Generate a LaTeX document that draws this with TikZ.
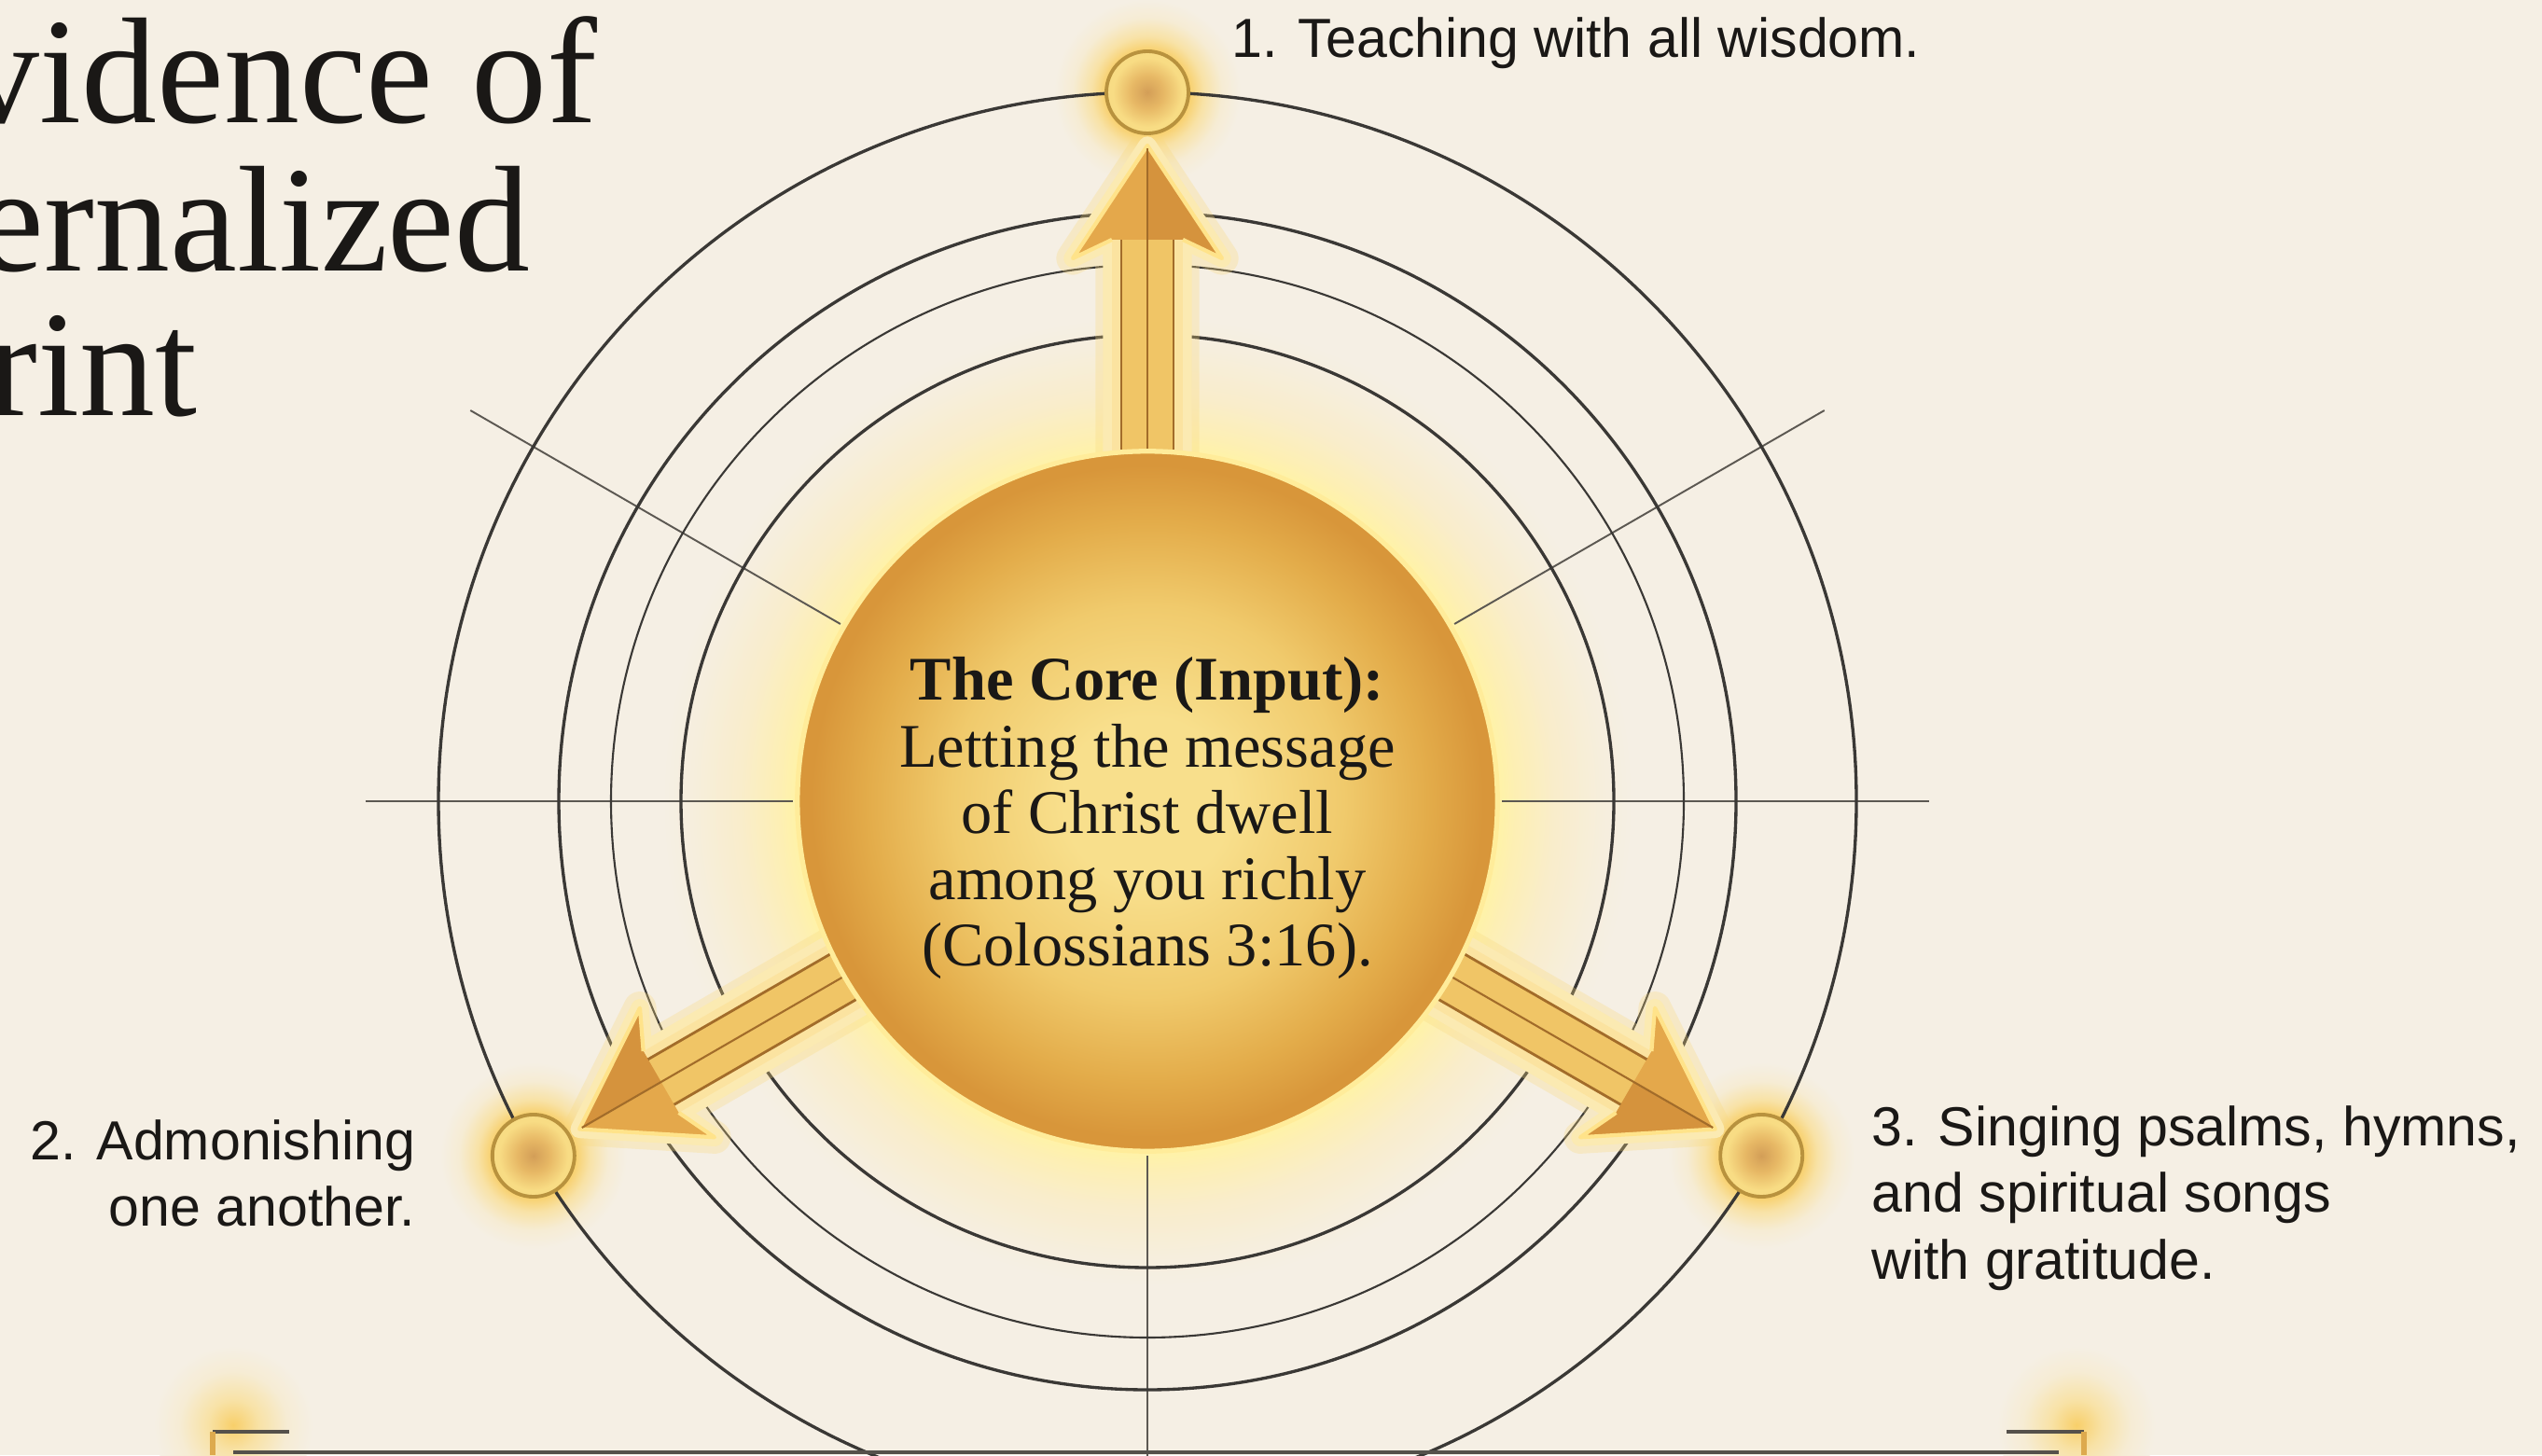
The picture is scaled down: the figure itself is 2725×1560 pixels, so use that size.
\documentclass[tikz,border=0pt]{standalone}
\usepackage{fontspec}
\setmainfont{Liberation Serif}
\newfontfamily\labfont{Liberation Sans}
\usetikzlibrary{calc}
\definecolor{bg}{HTML}{F5EFE4}
\definecolor{ink}{HTML}{1A1816}
\definecolor{ringc}{HTML}{3A3835}
\definecolor{spokec}{HTML}{5C5852}
\definecolor{coreA}{HTML}{F8DF8C}
\definecolor{coreB}{HTML}{F0CA6C}
\definecolor{coreC}{HTML}{E3AC4A}
\definecolor{coreD}{HTML}{D8963A}
\definecolor{coreRim}{HTML}{FFEC9A}
\definecolor{glowA}{HTML}{FFF3A6}
\definecolor{glowB}{HTML}{FDEFB4}
\definecolor{glowC}{HTML}{F9EDCB}
\definecolor{glowD}{HTML}{F6EEDD}
\definecolor{dotA}{HTML}{D39E57}
\definecolor{dotB}{HTML}{E7B865}
\definecolor{dotC}{HTML}{F8DC84}
\definecolor{dotline}{HTML}{B8923E}
\definecolor{dglowA}{HTML}{F8CF6A}
\definecolor{dglowB}{HTML}{F8E2A6}
\definecolor{dglowC}{HTML}{F6ECD4}
\definecolor{halo}{HTML}{FBEAB2}
\definecolor{haloS}{HTML}{F9DA80}
\definecolor{shaftP}{HTML}{FBE3A0}
\definecolor{shaftM}{HTML}{F0C566}
\definecolor{headL}{HTML}{E4A84B}
\definecolor{headD}{HTML}{D5933D}
\definecolor{headE}{HTML}{FFE38A}
\definecolor{grooveC}{HTML}{A26C2A}
\definecolor{brkGold}{HTML}{DDAA4E}
\definecolor{brkLine}{HTML}{55514B}

\pgfdeclareradialshading{coreshade}{\pgfpoint{0bp}{0bp}}{color(0bp)=(coreA); color(6bp)=(coreA); color(14bp)=(coreB); color(20bp)=(coreC); color(24bp)=(coreD); color(25bp)=(coreD); color(50bp)=(coreD)}
\pgfdeclareradialshading{coreglow}{\pgfpoint{0bp}{0bp}}{color(0bp)=(glowA); color(18bp)=(glowA); color(19bp)=(glowB); color(21bp)=(glowC); color(23.5bp)=(glowD); color(25bp)=(bg); color(50bp)=(bg)}
\pgfdeclareradialshading{dotshade}{\pgfpoint{0bp}{0bp}}{color(0bp)=(dotA); color(10bp)=(dotB); color(21bp)=(dotC); color(25bp)=(dotC); color(50bp)=(dotC)}
\pgfdeclareradialshading{dotglow}{\pgfpoint{0bp}{0bp}}{color(0bp)=(dglowA); color(11bp)=(dglowA); color(15bp)=(dglowB); color(20bp)=(dglowC); color(25bp)=(bg); color(50bp)=(bg)}
\pgfdeclareradialshading{brkglow}{\pgfpoint{0bp}{0bp}}{color(0bp)=(dglowA); color(8bp)=(dglowB); color(17bp)=(dglowC); color(25bp)=(bg); color(50bp)=(bg)}

\begin{document}
\begin{tikzpicture}[x=0.01cm,y=0.01cm,
  ring/.style={draw=ringc, line width=0.95pt},
  thinring/.style={draw=ringc, line width=0.6pt},
  spoke/.style={draw=spokec, line width=0.55pt},
  dot/.style={circle, inner sep=0pt, minimum size=0.88cm, shade, shading=dotshade, draw=dotline, line width=1.1pt},
  lab/.style={font=\labfont\fontsize{16.8}{20.4}\selectfont, text=ink, inner sep=0pt},
  coretxt/.style={font=\fontsize{18.9}{20.2}\selectfont, text=ink, inner sep=0pt},
  titletxt/.style={font=\fontsize{46}{44.1}\selectfont, text=ink, inner sep=0pt}]

\useasboundingbox (0,0) rectangle (2725,1560);
\fill[bg] (0,0) rectangle (2725,1560);
\coordinate (C) at (1230,701);
\coordinate (p1) at ($(C)+(90:760)$);
\coordinate (p2) at ($(C)+(210:760)$);
\coordinate (p3) at ($(C)+(330:760)$);

% glows
\shade[shading=coreglow] (C) circle[radius=520];
\foreach \p in {p1,p2,p3}{\shade[shading=dotglow] (\p) circle[radius=100];}
\shade[shading=brkglow] (250,32) circle[radius=85];
\shade[shading=brkglow] (2226,32) circle[radius=85];

% spokes
\foreach \a in {0,30,150,180}{\draw[spoke] ($(C)+(\a:380)$) -- ($(C)+(\a:838)$);}
\draw[spoke] ($(C)+(270:380)$) -- ($(C)+(270:838)$);

% rings
\draw[ring] (C) circle[radius=760];
\draw[ring] (C) circle[radius=631];
\draw[thinring] (C) circle[radius=575];
\draw[ring] (C) circle[radius=500];

% arrows
\foreach \a in {90,210,330}{
  \begin{scope}[shift={(C)}, rotate=\a]
    \draw[draw=haloS, draw opacity=0.3, line width=10pt, line join=round]
      (370,-38) -- (602,-38) -- (582,-80) -- (703,0) -- (582,80) -- (602,38) -- (370,38) -- cycle;
    \draw[draw=halo, line width=5.5pt, line join=round]
      (370,-38) -- (602,-38) -- (582,-80) -- (703,0) -- (582,80) -- (602,38) -- (370,38) -- cycle;
    \fill[shaftP] (370,-38) rectangle (604,38);
    \fill[shaftM] (370,-28) rectangle (604,28);
    \fill[headL] (602,-38) -- (582,-80) -- (703,0) -- (582,80) -- (602,38) -- cycle;
    \fill[headD] (703,0) -- (582,-80) -- (602,-38) -- (602,0) -- cycle;
    \draw[headE, line width=1.2pt, line join=round] (602,-38) -- (582,-80) -- (703,0) -- (582,80) -- (602,38);
    \draw[grooveC, line width=0.8pt] (370,-28) -- (602,-28) (370,28) -- (602,28);
    \draw[grooveC, line width=0.6pt] (370,0) -- (700,0);
  \end{scope}
}

% core
\node[circle, inner sep=0pt, minimum size=7.5cm, shade, shading=coreshade, draw=coreRim, line width=1.5pt] (core) at (C) {};
\node[coretxt, anchor=base] (coretext) at (1230,809)
  {\begin{tabular}[t]{@{}c@{}}\textbf{The Core (Input):}\\Letting the message\\of Christ dwell\\among you richly\\(Colossians 3:16).\end{tabular}};

% outer nodes
\node[dot] (n1) at (p1) {};
\node[dot] (n2) at (p2) {};
\node[dot] (n3) at (p3) {};

% labels
\node[lab, anchor=base west] (l1) at (1320,1498) {1. Teaching with all wisdom.};
\node[lab, anchor=base east] (l2) at (446,317)
  {\begin{tabular}[t]{@{}r@{}}2. Admonishing\\one another.\end{tabular}};
\node[lab, anchor=base west] (l3) at (2006,332)
  {\begin{tabular}[t]{@{}l@{}}3. Singing psalms, hymns,\\and spiritual songs\\with gratitude.\end{tabular}};

% title (cut at the left edge, as in the reference)
\node[titletxt, anchor=base west] (title) at (-39,1428)
  {\begin{tabular}[t]{@{}l@{}}vidence of\\\hspace*{4pt}ernalized\\\hspace*{7.1pt}rint\end{tabular}};

% bottom frame
\coordinate (bl) at (250,3);
\coordinate (br) at (2207,3);
\draw[draw=brkLine, line width=1.2pt] (bl) -- (br);
\draw[draw=brkLine, line width=1pt] (228,25) -- (310,25);
\draw[draw=brkGold, line width=1.5pt] (228,25) -- (228,0);
\draw[draw=brkLine, line width=1pt] (2151,25) -- (2234,25);
\draw[draw=brkGold, line width=1.5pt] (2234,25) -- (2234,0);
\end{tikzpicture}
\end{document}
